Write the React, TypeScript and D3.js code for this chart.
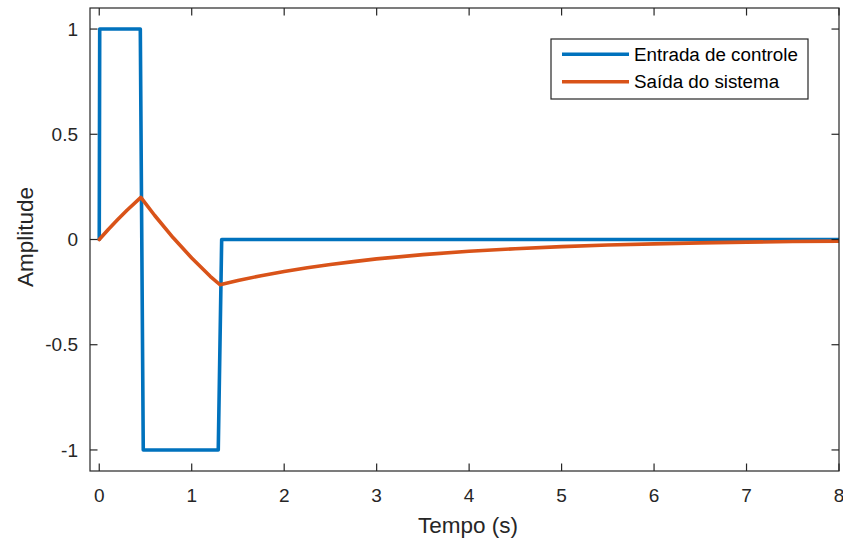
import React from "react";
import * as d3 from "d3";

// Control input (square pulse sequence)
const inputT = [0, 0.005, 0.444, 0.476, 1.287, 1.324, 8];
const inputY = [0, 1, 1, -1, -1, 0, 0];

// System output response
const outputT = [0, 0.1, 0.2, 0.3, 0.45, 0.6, 0.8, 1.0, 1.2, 1.306, 1.5, 1.75, 2, 2.25, 2.5, 2.75, 3, 3.5, 4, 4.5, 5, 5.5, 6, 6.5, 7, 7.5, 8];
const outputY = [0, 0.049, 0.095, 0.139, 0.2, 0.114, 0.008, -0.088, -0.175, -0.215, -0.195, -0.172, -0.152, -0.134, -0.119, -0.105, -0.092, -0.072, -0.056, -0.044, -0.034, -0.026, -0.021, -0.016, -0.0125, -0.0097, -0.0076];

const xTicks = [0, 1, 2, 3, 4, 5, 6, 7, 8];
const yTicks = [-1, -0.5, 0, 0.5, 1];
const seriesNames = ["Entrada de controle", "Saída do sistema"];
const seriesColors = ["#0072BD", "#D95319"];

const W = 843;
const H = 543;
const left = 90;
const right = 839;
const top = 8;
const bottom = 471;
const axisColor = "#262626";
const font = "'Liberation Sans', Arial, Helvetica, sans-serif";

export default function App() {
  const x = d3.scaleLinear().domain([-0.1, 8]).range([left, right]);
  const y = d3.scaleLinear().domain([-1.1, 1.1]).range([bottom, top]);

  const line = d3
    .line<[number, number]>()
    .x((d) => x(d[0]))
    .y((d) => y(d[1]));

  const inputPts: [number, number][] = inputT.map((t, i) => [t, inputY[i]]);
  const outputPts: [number, number][] = outputT.map((t, i) => [t, outputY[i]]);

  const tickLen = 7.5;
  const yFmt = (v: number) => (v === 0 ? "0" : String(v));

  const legX = 551;
  const legY = 39;
  const legW = 257;
  const legH = 60;
  const rows = [54.3, 81.7];

  return (
    <svg
      width={W}
      height={H}
      style={{ position: "absolute", left: 0, top: 0, background: "#fff" }}
      fontFamily={font}
    >
      <defs>
        <clipPath id="plot-area">
          <rect x={left} y={top} width={right - left} height={bottom - top} />
        </clipPath>
      </defs>
      <rect x={0} y={0} width={W} height={H} fill="#fff" />

      {/* data */}
      <g clipPath="url(#plot-area)" fill="none" strokeLinejoin="round" strokeLinecap="round">
        <path d={line(inputPts) ?? ""} stroke={seriesColors[0]} strokeWidth={3.6} />
        <path d={line(outputPts) ?? ""} stroke={seriesColors[1]} strokeWidth={3.6} />
      </g>

      {/* axes box and ticks */}
      <g stroke={axisColor} strokeWidth={1.2} fill="none">
        <rect x={left} y={top} width={right - left} height={bottom - top} />
        {xTicks.map((t) => (
          <g key={"xt" + t}>
            <line x1={x(t)} x2={x(t)} y1={bottom} y2={bottom - tickLen} />
            <line x1={x(t)} x2={x(t)} y1={top} y2={top + tickLen} />
          </g>
        ))}
        {yTicks.map((t) => (
          <g key={"yt" + t}>
            <line x1={left} x2={left + tickLen} y1={y(t)} y2={y(t)} />
            <line x1={right} x2={right - tickLen} y1={y(t)} y2={y(t)} />
          </g>
        ))}
      </g>

      {/* tick labels */}
      <g fill={axisColor} fontSize={19}>
        {xTicks.map((t) => (
          <text key={"xl" + t} x={x(t)} y={502} textAnchor="middle">
            {t}
          </text>
        ))}
        {yTicks.map((t) => (
          <text key={"yl" + t} x={78} y={y(t) + 6.7} textAnchor="end">
            {yFmt(t)}
          </text>
        ))}
      </g>

      {/* axis titles */}
      <text x={468} y={532.5} textAnchor="middle" fontSize={22.5} fill={axisColor}>
        Tempo (s)
      </text>
      <text
        transform={`translate(33, 237) rotate(-90)`}
        textAnchor="middle"
        fontSize={22.5}
        fill={axisColor}
      >
        Amplitude
      </text>

      {/* legend */}
      <rect x={legX} y={legY} width={legW} height={legH} fill="#fff" stroke={axisColor} strokeWidth={1.2} />
      {seriesNames.map((name, i) => (
        <g key={name}>
          <line x1={562} x2={629} y1={rows[i]} y2={rows[i]} stroke={seriesColors[i]} strokeWidth={3.6} />
          <text x={634} y={rows[i] + 6.5} fontSize={18.8} fill="#000">
            {name}
          </text>
        </g>
      ))}
    </svg>
  );
}
